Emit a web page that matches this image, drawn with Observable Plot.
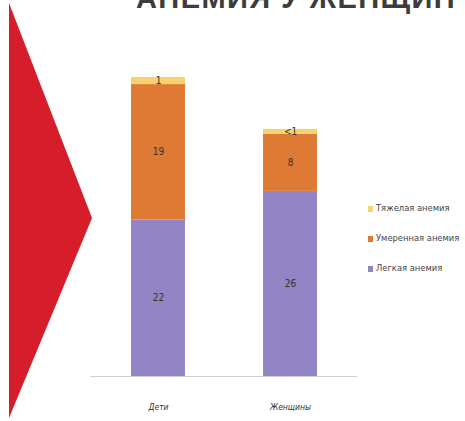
<!DOCTYPE html>
<html>
<head>
<meta charset="utf-8">
<script src="https://cdn.jsdelivr.net/npm/d3@7"></script>
<script src="https://cdn.jsdelivr.net/npm/@observablehq/plot@0.6"></script>
<style>
  html, body { margin: 0; padding: 0; background: #fff; }
  #wrap { position: relative; width: 465px; height: 421px; overflow: hidden; background: #fff; }
  #tri { position: absolute; left: 0; top: 0; width: 465px; height: 421px;
         background: #d61e2b; clip-path: polygon(9px 3px, 92px 218px, 9px 418px); }
  #title { position: absolute; left: 136px; top: -16px; font-family: "Liberation Sans", Arial, sans-serif;
           font-weight: bold; font-size: 29px; line-height: 29px; color: #3c3c3c; white-space: nowrap; letter-spacing: 1.4px; }
  #chart { position: absolute; left: 0; top: 0; }
  #legend { position: absolute; left: 368px; top: 202px; font-family: "DejaVu Sans Condensed", "Liberation Sans Narrow", sans-serif;
            font-size: 9.3px; color: #444; }
  #legend div { height: 30px; line-height: 12px; white-space: nowrap; }
  #legend span.sw { display: inline-block; width: 5px; height: 6px; margin-right: 3px; vertical-align: -1px; }
</style>
</head>
<body>
<div id="wrap">
  <div id="tri"></div>
  <div id="title"></div>
  <div id="chart"></div>
  <div id="legend"></div>
</div>
<script>
const titleText = "АНЕМИЯ У ЖЕНЩИН";
const categories = ["Дети", "Женщины"];
const seriesNames = ["Легкая анемия", "Умеренная анемия", "Тяжелая анемия"];
const seriesColors = ["#9384c5", "#df7a34", "#f6d36c"];
const mildValues = [22, 26];
const moderateValues = [19, 8];
const severeValues = [1, 0.7];
const severeLabels = ["1", "<1"];

const data = [];
categories.forEach((c, i) => {
  data.push({cat: c, series: seriesNames[0], value: mildValues[i], label: String(mildValues[i])});
  data.push({cat: c, series: seriesNames[1], value: moderateValues[i], label: String(moderateValues[i])});
  data.push({cat: c, series: seriesNames[2], value: severeValues[i], label: severeLabels[i]});
});

document.getElementById("title").textContent = titleText;

const chart = Plot.plot({
  width: 465,
  height: 421,
  marginLeft: 51,
  marginRight: 69,
  marginTop: 20,
  marginBottom: 45,
  style: {background: "transparent", fontFamily: "DejaVu Sans Condensed, sans-serif"},
  x: {domain: categories, padding: 0.594, label: null},
  y: {domain: [0, 50], axis: null},
  color: {domain: seriesNames, range: seriesColors},
  marks: [
    Plot.barY(data, {x: "cat", y: "value", fill: "series", order: seriesNames}),
    Plot.ruleY([0], {stroke: "#d0d0d0", strokeWidth: 1, insetLeft: 39, insetRight: 39}),
    Plot.text(data, Plot.stackY({x: "cat", y: "value", z: "series", order: seriesNames, text: "label",
      fill: "#3a3030", fontSize: 10, fontFamily: "DejaVu Sans Condensed, sans-serif"})),
    Plot.axisX({tickSize: 0, tickPadding: 27, fontSize: 8.5, fill: "#333", fontStyle: "italic",
      fontFamily: "DejaVu Sans Condensed, sans-serif"})
  ]
});
document.getElementById("chart").appendChild(chart);

const legend = document.getElementById("legend");
[2, 1, 0].forEach(i => {
  const row = document.createElement("div");
  const sw = document.createElement("span");
  sw.className = "sw";
  sw.style.background = seriesColors[i];
  row.appendChild(sw);
  row.appendChild(document.createTextNode(seriesNames[i]));
  legend.appendChild(row);
});
</script>
</body>
</html>
